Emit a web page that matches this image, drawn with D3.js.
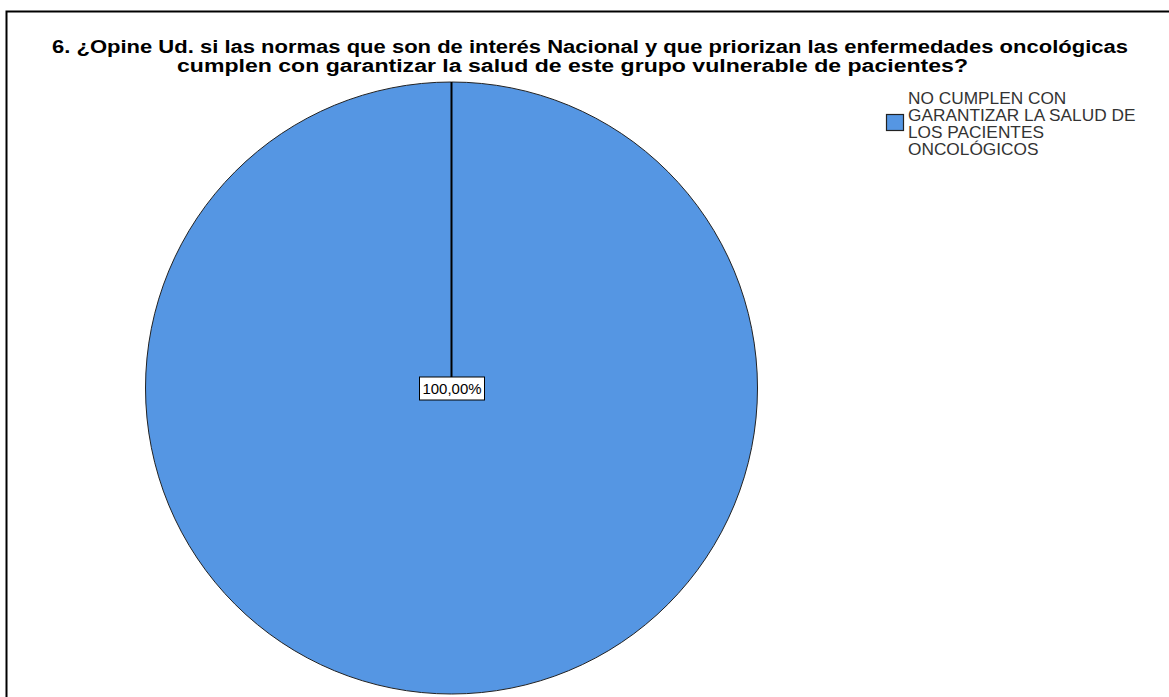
<!DOCTYPE html>
<html>
<head>
<meta charset="utf-8">
<script src="https://cdn.jsdelivr.net/npm/d3@7"></script>
<style>
	body { margin: 0; background: #fff; }
</style>
</head>
<body>
<div id="chart"></div>
<script>
// data
const categories = ['NO CUMPLEN CON GARANTIZAR LA SALUD DE LOS PACIENTES ONCOLÓGICOS'];
const values = [100];
const legendLines = ['NO CUMPLEN CON', 'GARANTIZAR LA SALUD DE', 'LOS PACIENTES', 'ONCOLÓGICOS'];
const titleLines = [
	'6. ¿Opine Ud. si las normas que son de interés Nacional y que priorizan las enfermedades oncológicas',
	'cumplen con garantizar la salud de este grupo vulnerable de pacientes?'
];

const width = 1169, height = 697;
const cx = 451.5, cy = 388, radius = 306;
const colors = ['#5596e3'];
const font = 'Arial, "Liberation Sans", sans-serif';

const svg = d3.select('#chart')
	.append('svg')
	.attr('width', width)
	.attr('height', height);

// frame
svg.append('path')
	.attr('d', `M6.5,${height} V11.5 H${width}`)
	.attr('fill', 'none')
	.attr('stroke', '#000')
	.attr('stroke-width', 2);

// title (the original is stretched a bit sideways)
const titleX = [52, 177],
	titleW = [1076, 791];

svg.append('g')
	.selectAll('text')
	.data(titleLines)
	.join('text')
	.attr('x', (d, i) => titleX[i])
	.attr('y', (d, i) => 53 + i * 19)
	.attr('textLength', (d, i) => titleW[i])
	.attr('lengthAdjust', 'spacingAndGlyphs')
	.style('font-family', font)
	.style('font-size', '18px')
	.style('font-weight', 'bold')
	.attr('fill', '#000')
	.text(d => d);

// pie
const pie = d3.pie().sort(null)(values);
const arc = d3.arc().innerRadius(0).outerRadius(radius);

const pieG = svg.append('g')
	.attr('transform', `translate(${cx},${cy})`);

pieG.selectAll('path.slice')
	.data(pie)
	.join('path')
	.attr('class', 'slice')
	.attr('d', arc)
	.attr('fill', (d, i) => colors[i])
	.attr('stroke', '#222')
	.attr('stroke-width', 1);

// slice boundary line at the start angle
pie.forEach(d => {
	const a = d.startAngle;
	pieG.append('line')
		.attr('x1', 0).attr('y1', 0)
		.attr('x2', radius * Math.sin(a))
		.attr('y2', -radius * Math.cos(a))
		.attr('stroke', '#000')
		.attr('stroke-width', 2);
});

// value label
const fmt = v => d3.format('.2f')(v).replace('.', ',') + '%';
const labelG = pieG.append('g');
labelG.append('rect')
	.attr('x', -32)
	.attr('y', -11)
	.attr('width', 65)
	.attr('height', 23)
	.attr('fill', '#fff')
	.attr('stroke', '#000')
	.attr('stroke-width', 1);
labelG.append('text')
	.attr('x', -29)
	.attr('y', 5.5)
	.attr('textLength', 59)
	.attr('lengthAdjust', 'spacingAndGlyphs')
	.style('font-family', font)
	.style('font-size', '14px')
	.attr('fill', '#000')
	.text(fmt(values[0]));

// legend
const legend = svg.append('g');
legend.append('rect')
	.attr('x', 886.5)
	.attr('y', 114.5)
	.attr('width', 17)
	.attr('height', 16)
	.attr('fill', colors[0])
	.attr('stroke', '#222')
	.attr('stroke-width', 1.2);

legend.append('g')
	.attr('transform', 'translate(908,0) scale(1.08,1)')
	.selectAll('text')
	.data(legendLines)
	.join('text')
	.attr('x', 0)
	.attr('y', (d, i) => 104 + i * 17)
	.style('font-family', font)
	.style('font-size', '16px')
	.attr('fill', '#333')
	.text(d => d);
</script>
</body>
</html>
